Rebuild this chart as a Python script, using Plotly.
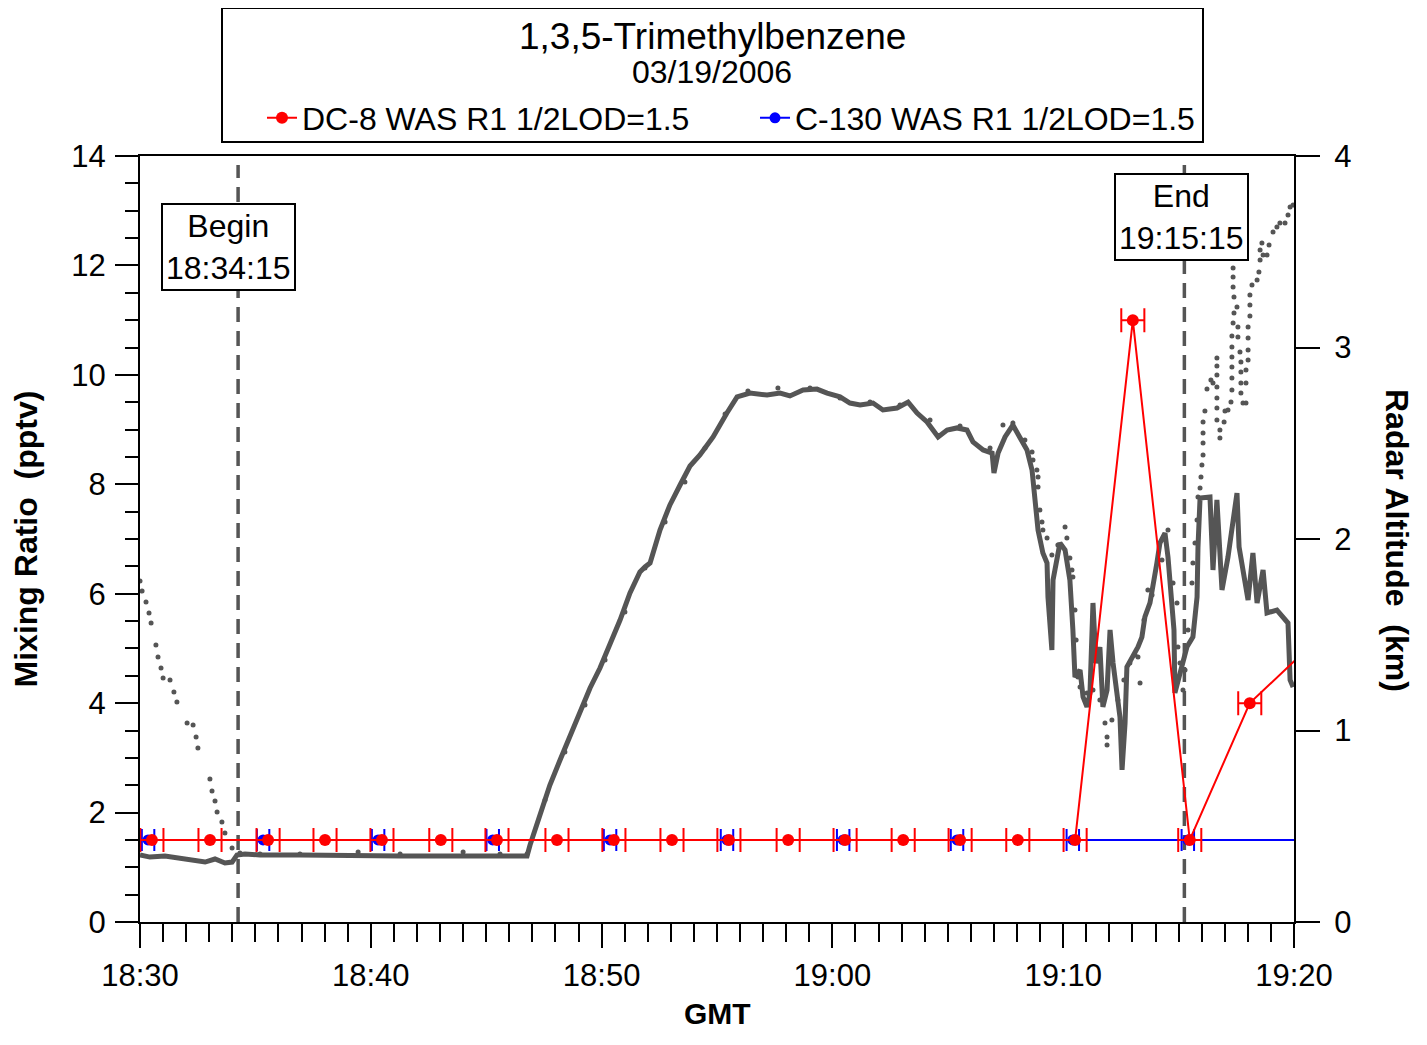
import numpy as np
import plotly.graph_objects as go

# ---- DC-8 WAS samples (GMT, pptv) ----
dc8_times = ["18:30:31", "18:33:02", "18:35:33", "18:38:01", "18:40:29", "18:43:02",
             "18:45:28", "18:48:04", "18:50:32", "18:53:03", "18:55:31", "18:58:05",
             "19:00:33", "19:03:04", "19:05:32", "19:08:02", "19:10:31", "19:13:01",
             "19:15:29", "19:18:05", "19:20:36"]
dc8_values = [1.5, 1.5, 1.5, 1.5, 1.5, 1.5, 1.5, 1.5, 1.5, 1.5, 1.5, 1.5,
              1.5, 1.5, 1.5, 1.5, 1.5, 11.0, 1.5, 4.0, 5.0]
dc8_err_min = 0.5          # half sampling interval (minutes)

# ---- C-130 WAS samples (GMT, pptv) ----
c130_times = ["18:30:21", "18:35:20", "18:40:19", "18:45:17", "18:50:22", "18:55:26",
              "19:00:28", "19:05:24", "19:10:25", "19:15:24", "19:20:24"]
c130_values = [1.5] * 11
c130_err_min = 0.27

# ---- Radar altitude, aircraft 1 (solid), minutes after 18:30 / km ----
alt_solid_min = [0.00, 0.43, 1.08, 1.73, 2.38, 2.82, 3.25, 3.68, 3.99, 4.20, 4.55, 5.20,
                 6.93, 9.10, 11.27, 13.43, 15.60, 16.77, 16.90, 17.33, 17.76, 18.20,
                 18.85, 19.50, 19.93, 20.36, 20.80, 21.23, 21.66, 21.88, 22.10, 22.53,
                 22.96, 23.40, 23.83, 24.26, 24.83, 25.43, 25.87, 26.43, 27.17, 27.73,
                 28.16, 28.73, 29.33, 29.77, 30.33, 30.76, 31.20, 31.76, 32.19, 32.80,
                 33.28, 33.67, 34.10, 34.58, 34.97, 35.40, 35.83, 36.09, 36.53, 36.92,
                 37.00, 37.18, 37.48, 37.82, 38.13, 38.43, 38.65, 38.78, 38.91, 39.12,
                 39.30, 39.34, 39.51, 39.56, 39.73, 39.86, 40.08, 40.29, 40.42, 40.51,
                 40.73, 40.86, 41.03, 41.16, 41.29, 41.42, 41.59, 41.72, 41.90, 42.03,
                 42.16, 42.33, 42.46, 42.55, 42.68, 42.76, 43.02, 43.24, 43.41, 43.54,
                 43.76, 43.89, 44.06, 44.19, 44.41, 44.54, 44.71, 44.80, 44.84, 45.06,
                 45.36, 45.62, 45.80, 45.84, 45.93, 46.36, 46.49, 46.66, 46.79, 46.88,
                 47.14, 47.36, 47.53, 47.62, 47.79, 48.01, 48.22, 48.40, 48.66, 48.83,
                 49.26, 49.52, 49.74, 49.83, 49.96]
alt_solid_km = [0.350, 0.339, 0.345, 0.334, 0.319, 0.313, 0.329, 0.308, 0.313, 0.350, 0.355, 0.350,
                0.350, 0.345, 0.345, 0.345, 0.345, 0.345, 0.402, 0.559, 0.715, 0.846,
                1.029, 1.222, 1.326, 1.446, 1.577, 1.718, 1.828, 1.854, 1.875, 2.047,
                2.178, 2.282, 2.381, 2.439, 2.533, 2.658, 2.742, 2.762, 2.752, 2.762,
                2.747, 2.778, 2.783, 2.762, 2.742, 2.710, 2.700, 2.710, 2.674, 2.684,
                2.715, 2.658, 2.611, 2.533, 2.569, 2.580, 2.569, 2.507, 2.465, 2.449,
                2.345, 2.449, 2.533, 2.595, 2.533, 2.465, 2.360, 2.219, 2.047, 1.927,
                1.875, 1.697, 1.420, 1.786, 1.906, 1.979, 1.943, 1.786, 1.525, 1.279,
                1.316, 1.175, 1.123, 1.196, 1.666, 1.352, 1.436, 1.123, 1.211, 1.525,
                1.352, 1.211, 1.070, 0.794, 1.039, 1.332, 1.384, 1.436, 1.488, 1.593,
                1.666, 1.749, 1.875, 1.979, 2.031, 1.906, 1.697, 1.525, 1.196, 1.300,
                1.436, 1.488, 1.697, 1.958, 2.214, 2.219, 1.838, 2.204, 1.838, 1.734,
                1.906, 2.084, 2.240, 1.958, 1.822, 1.681, 1.927, 1.666, 1.838, 1.614,
                1.629, 1.593, 1.561, 1.264, 1.227]

# ---- Radar altitude, aircraft 2 (dotted), minutes after 18:30 / km ----
alt_dot_min = [0.00, 0.09, 0.26, 0.39, 0.48, 0.69, 0.78, 0.91, 1.00, 1.30, 1.47, 1.60,
               2.04, 2.30, 2.43, 2.51, 3.03, 3.12, 3.25, 3.34, 3.55, 3.68, 3.99, 4.33,
               5.20, 6.93, 9.45, 11.27, 14.00, 15.60, 16.77, 17.55, 18.41, 19.28, 20.15,
               21.01, 21.88, 22.75, 23.61, 24.48, 25.35, 26.34, 27.64, 29.03, 30.33,
               31.63, 32.93, 34.23, 35.53, 36.83, 37.39, 37.82, 38.34, 38.65, 38.69,
               38.86, 38.91, 38.91, 38.99, 39.08, 39.12, 39.30, 39.51, 39.77, 40.08,
               40.16, 40.29, 40.38, 40.42, 40.51, 40.56, 40.64, 40.73, 41.03, 41.29,
               41.59, 41.81, 41.90, 41.90, 42.11, 42.37, 42.63, 42.89, 43.11, 43.24,
               43.33, 43.50, 43.67, 43.85, 44.28, 44.54, 44.76, 44.93, 44.97, 45.06,
               45.19, 45.28, 45.41, 45.58, 45.62, 45.71, 45.80, 45.84, 45.93, 45.97,
               46.01, 46.06, 46.06, 46.06, 46.06, 46.14, 46.23, 46.40, 46.49, 46.66,
               46.66, 46.66, 46.66, 46.66, 46.66, 46.66, 46.79, 46.79, 46.97, 47.01,
               47.14, 47.27, 47.31, 47.31, 47.31, 47.31, 47.31, 47.31, 47.36, 47.40,
               47.53, 47.40, 47.36, 47.36, 47.36, 47.57, 47.57, 47.66, 47.70, 47.70,
               47.70, 47.70, 47.79, 47.92, 47.92, 47.92, 48.01, 48.01, 48.01, 48.01,
               48.09, 48.09, 48.09, 48.18, 48.40, 48.48, 48.53, 48.53, 48.61, 48.66,
               48.83, 48.92, 49.09, 49.26, 49.39, 49.61, 49.74, 49.83, 49.96]
alt_dot_km = [1.781, 1.728, 1.671, 1.614, 1.561, 1.446, 1.384, 1.326, 1.274, 1.264, 1.201, 1.149,
              1.039, 1.029, 0.966, 0.909, 0.747, 0.684, 0.632, 0.574, 0.522, 0.465, 0.386, 0.360,
              0.355, 0.355, 0.366, 0.355, 0.366, 0.355, 0.355, 0.637, 0.888, 1.133, 1.368,
              1.619, 1.849, 2.089, 2.298, 2.475, 2.653, 2.773, 2.789, 2.789, 2.736,
              2.715, 2.700, 2.621, 2.590, 2.475, 2.595, 2.606, 2.517, 2.454, 2.413,
              2.360, 2.324, 2.272, 2.151, 2.089, 2.047, 2.005, 1.916, 1.969, 2.063,
              2.005, 1.901, 1.838, 1.802, 1.629, 1.473, 1.279, 1.227, 1.196, 1.211,
              1.159, 1.039, 0.966, 0.924, 1.055, 1.159, 1.264, 1.352, 1.394, 1.384,
              1.248, 1.577, 1.734, 1.708, 1.890, 2.047, 1.770, 1.666, 1.436, 1.352,
              1.211, 1.316, 1.525, 1.770, 1.875, 1.979, 2.099, 2.219, 2.266, 2.324,
              2.386, 2.439, 2.501, 2.554, 2.611, 2.668, 2.783, 2.830, 2.815, 2.856,
              2.903, 2.945, 2.794, 2.736, 2.684, 2.621, 2.569, 2.527, 2.611, 2.668,
              2.674, 2.715, 2.778, 2.841, 2.898, 2.950, 3.003, 3.060, 3.128, 3.180,
              3.211, 3.264, 3.316, 3.368, 3.415, 3.107, 3.055, 2.977, 2.924, 2.872,
              2.815, 2.762, 2.710, 2.710, 2.815, 2.883, 2.935, 2.987, 3.050, 3.107,
              3.164, 3.222, 3.274, 3.326, 3.352, 3.394, 3.457, 3.509, 3.546, 3.483,
              3.483, 3.535, 3.603, 3.629, 3.650, 3.650, 3.692, 3.734, 3.744]

# ---- labels ----
title_text = "1,3,5-Trimethylbenzene"
date_text = "03/19/2006"
dc8_name = "DC-8 WAS R1 1/2LOD=1.5"
c130_name = "C-130 WAS R1 1/2LOD=1.5"
begin_time = "18:34:15"
end_time = "19:15:15"
x_tick_labels = ["18:30", "18:40", "18:50", "19:00", "19:10", "19:20"]
START = "18:30:00"

FONT = "Liberation Sans, Arial, sans-serif"
GREY = "#555555"


def to_min(s):
    """GMT string -> minutes after 18:30."""
    parts = [int(p) for p in s.split(":")]
    h, m = parts[0], parts[1]
    sec = parts[2] if len(parts) > 2 else 0
    sh, sm, ss = [int(p) for p in START.split(":")]
    return (h * 60 + m + sec / 60.0) - (sh * 60 + sm + ss / 60.0)


fig = go.Figure()

# altitude on the primary (right-hand) axis so the mixing-ratio traces sit on top
fig.add_trace(go.Scatter(
    x=alt_dot_min, y=alt_dot_km, mode="markers",
    marker=dict(size=5, color=GREY), showlegend=False, yaxis="y", hoverinfo="skip"))
fig.add_trace(go.Scatter(
    x=alt_solid_min, y=alt_solid_km, mode="lines",
    line=dict(color=GREY, width=5), showlegend=False, yaxis="y", hoverinfo="skip"))

fig.add_trace(go.Scatter(
    x=[to_min(s) for s in c130_times], y=c130_values, mode="lines+markers", name=c130_name,
    line=dict(color="#0000ff", width=2), marker=dict(size=11, color="#0000ff"),
    error_x=dict(type="constant", value=c130_err_min, color="#0000ff", thickness=2, width=11),
    yaxis="y2"))
fig.add_trace(go.Scatter(
    x=[to_min(s) for s in dc8_times], y=dc8_values, mode="lines+markers", name=dc8_name,
    line=dict(color="#ff0000", width=2), marker=dict(size=12, color="#ff0000"),
    error_x=dict(type="constant", value=dc8_err_min, color="#ff0000", thickness=2, width=12),
    yaxis="y2"))

# page body has an 8px margin -> figure origin sits at (8, 8)
OFF = 8
W, H = 1427 - 2 * OFF, 1045 - 2 * OFF
PL, PR, PT, PB = 140, 1294, 156, 922          # plot-area edges in window pixels
L, T = PL - OFF, PT - OFF
R = (OFF + W) - PR
B = (OFF + H) - PB
pw, ph = PR - PL, PB - PT


def px(xp):
    return (xp - PL) / pw


def py(yp):
    return (PB - yp) / ph


tickfont = dict(family=FONT, size=31, color="black")
tick_vals = [to_min(s) for s in x_tick_labels]

fig.update_layout(
    width=W, height=H,
    margin=dict(l=L, r=R, t=T, b=B, autoexpand=False),
    paper_bgcolor="white", plot_bgcolor="white",
    font=dict(family=FONT, color="black"),
    xaxis=dict(
        range=[tick_vals[0], tick_vals[-1]],
        tickvals=tick_vals, ticktext=x_tick_labels,
        ticks="outside", ticklen=24, tickwidth=2, tickcolor="black",
        minor=dict(dtick=1, tick0=0, ticks="outside", ticklen=18, tickwidth=2, tickcolor="black"),
        showline=True, linecolor="black", linewidth=2, mirror=True,
        showgrid=False, zeroline=False, tickfont=tickfont, ticklabelstandoff=1,
    ),
    yaxis=dict(
        range=[0, 4], dtick=1, side="right",
        ticks="outside", ticklen=24, tickwidth=2, tickcolor="black",
        showline=True, linecolor="black", linewidth=2,
        showgrid=False, zeroline=False, tickfont=tickfont, ticklabelstandoff=8,
    ),
    yaxis2=dict(
        range=[0, 14], dtick=2, side="left", overlaying="y",
        ticks="outside", ticklen=23, tickwidth=2, tickcolor="black",
        minor=dict(dtick=0.5, ticks="outside", ticklen=13, tickwidth=2, tickcolor="black"),
        showline=True, linecolor="black", linewidth=2,
        showgrid=False, zeroline=False, tickfont=tickfont, ticklabelstandoff=3,
        title=dict(text="<b>Mixing Ratio \u00a0(pptv)</b>", font=dict(family=FONT, size=32), standoff=24),
    ),
    legend=dict(
        orientation="h", x=px(262), xanchor="left", y=py(118), yanchor="middle",
        font=dict(family=FONT, size=32, color="black"),
        entrywidth=448, entrywidthmode="pixels", bgcolor="rgba(0,0,0,0)",
        traceorder="reversed",
    ),
    showlegend=True,
)

# legend / title frame
fig.add_shape(type="rect", xref="paper", yref="paper",
              x0=px(222), x1=px(1203), y0=py(142), y1=py(8),
              line=dict(color="black", width=2), fillcolor="rgba(0,0,0,0)")

# begin / end dashed lines
for tm in (begin_time, end_time):
    fig.add_shape(type="line", xref="x", yref="paper", x0=to_min(tm), x1=to_min(tm),
                  y0=0, y1=py(165), layer="below",
                  line=dict(color=GREY, width=3.5, dash="15px,9px"))

annots = [
    dict(text=title_text, x=px(712), y=py(37), font=dict(size=37)),
    dict(text=date_text, x=px(712), y=py(72), font=dict(size=32)),
    dict(text="<b>GMT</b>", x=px(717), y=py(1013), font=dict(size=30)),
    dict(text="<b>Radar Altitude \u00a0(km)</b>", x=px(1397), y=py(540), textangle=90,
         font=dict(size=32)),
]
for a in annots:
    fig.add_annotation(xref="paper", yref="paper", showarrow=False,
                       xanchor="center", yanchor="middle",
                       **{k: v for k, v in a.items() if k != "font"},
                       font=dict(family=FONT, color="black", **a["font"]))

for txt, tm, yv in ((f"Begin<br>{begin_time}", "18:33:49", 12.34),
                    (f"End<br>{end_time}", "19:15:08", 12.88)):
    fig.add_annotation(xref="x", yref="y2", x=to_min(tm), y=yv, text=txt, showarrow=False,
                       font=dict(family=FONT, size=32, color="black"),
                       bgcolor="white", bordercolor="black", borderwidth=2, borderpad=3,
                       align="center")

fig.write_html("out.html")
